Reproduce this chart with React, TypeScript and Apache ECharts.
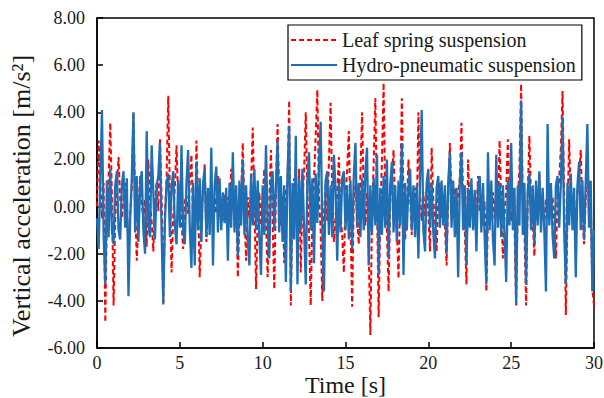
import React, { useEffect, useRef } from "react";
import * as echarts from "echarts";

const FONT = '"Liberation Serif", "Times New Roman", serif';

// sampling step of the read-off signals [s]
const STEP = 0.1;

const seriesNames = ["Leaf spring suspension", "Hydro-pneumatic suspension"];

// Leaf spring suspension, vertical acceleration [m/s2], t = 0 .. 30 s
const leafSpring = [
  0.0, 2.8, 1.0, -0.5, 1.0, -4.9, -0.3, 1.2, 3.55, 0.5,
  -4.2, -0.5, 0.8, 2.1, 0.3, -0.5, 0.4, 1.0, -0.4, -1.5,
  -0.3, 0.8, 4.0, 0.2, -2.3, -0.6, 1.3, 0.1, -0.5, 0.3,
  -1.7, 2.0, 0.2, -0.6, -1.9, 0.3, 1.0, -0.2, 2.85, 0.4,
  -4.2, -0.3, 1.2, 4.7, 0.6, -2.8, -0.4, 0.8, 2.6, 0.3,
  0.5, -0.6, -1.8, 0.2, 0.5, -0.3, 1.0, 2.2, -0.6, -2.0,
  2.8, 0.3, -3.0, -0.6, 0.7, 1.8, -1.5, 0.2, -0.5, 0.6,
  -1.2, 0.4, -0.3, 1.3, -0.4, 0.3, -0.6, 0.5, -0.2, 0.4,
  -0.5, 1.6, 0.2, -0.8, 0.4, -3.0, -0.5, 0.6, 2.7, -0.3,
  -2.3, 0.4, -0.5, 1.0, 3.35, 0.2, -3.5, -0.4, 0.6, -0.8,
  0.4, 1.6, -0.5, -3.0, 0.3, 2.4, -0.6, -3.5, 0.5, 3.5,
  0.3, -0.8, 0.5, -2.4, 0.6, 1.0, 4.5, -4.2, 0.5, 1.2,
  0.4, -1.0, 1.6, -2.8, 0.3, 1.5, 4.0, 0.6, -1.2, -4.2,
  -0.5, 1.2, 3.0, 4.95, 0.4, -1.0, -4.0, -0.3, 1.0, -0.6,
  2.0, 4.4, 0.5, -1.5, -0.4, 0.6, 2.1, -0.3, -1.2, -2.8,
  0.4, 1.6, 3.2, -0.5, -4.25, 0.3, 0.9, -0.4, -1.6, 1.4,
  4.0, 0.3, -0.8, 0.6, -1.8, -5.45, -0.5, 1.8, 4.6, 0.3,
  -4.7, -0.4, 2.0, 5.25, 0.4, -1.0, -3.6, 0.2, 1.2, 2.4,
  -0.4, -1.0, -3.05, 0.6, 4.6, 0.4, -1.4, -0.3, 2.0, 0.4,
  -1.2, 0.2, 0.8, -0.5, 4.0, 0.5, -0.6, 0.6, -0.4, 0.8,
  -0.3, -1.9, 2.5, 0.3, -0.6, -1.9, 0.5, 1.0, -0.5, 0.4,
  -0.8, -2.5, 0.4, 2.7, 0.2, -0.5, 0.8, -0.3, 0.5, 1.2,
  3.55, 0.3, -1.0, -3.3, 2.0, -0.4, 0.6, -0.8, 0.3, -0.5,
  1.3, -0.2, 0.5, -0.8, 0.2, -3.6, -0.5, 0.8, -0.4, 0.6,
  -0.5, 0.8, -0.3, 2.8, 0.2, -2.2, -0.4, 0.7, 2.85, 0.3,
  -0.6, 0.4, -0.8, -4.2, 0.3, 1.6, 5.2, 0.4, -1.0, -4.2,
  0.5, 3.0, 0.3, -0.6, -2.1, 0.4, -0.3, 1.4, -0.4, 0.5,
  -0.7, 0.3, -0.5, 0.6, -0.3, 0.4, -0.6, -2.2, 0.5, 1.2,
  2.5, 4.9, 0.4, -4.6, -0.3, 2.85, 0.3, -0.6, 0.4, -0.8,
  0.6, 1.4, 2.4, -0.3, -1.6, 0.3, 2.0, -0.5, 0.4, -3.5,
  -4.2,
];

// Hydro-pneumatic suspension, vertical acceleration [m/s2], t = 0 .. 30 s
const hydroPneumatic = [
  -0.5, -1.8, 1.2, 4.1, -1.2, -3.3, 1.1, -1.3, 1.6, -1.0,
  -1.6, 0.9, 1.5, -1.0, -1.4, 0.9, 1.5, -0.9, 1.2, -3.8,
  -0.6, 1.2, 4.0, -1.1, 1.3, -1.5, 0.8, 1.5, -1.0, -2.0,
  3.2, -0.8, -1.3, 2.6, 0.6, -1.4, 0.9, 1.3, 2.7, -1.1,
  -4.1, -0.6, 1.0, 1.4, -1.3, 0.8, 1.5, -0.8, -1.6, 1.1,
  -0.9, 2.6, -1.0, -1.6, 1.0, 2.4, -0.9, -2.6, 1.0, -2.5,
  1.9, -1.0, 1.2, -1.5, 1.0, 1.6, -1.3, 0.8, -1.2, 2.5,
  -2.5, 0.9, 1.7, -1.1, 1.2, -1.0, 0.6, -0.7, 0.8, -2.3,
  1.0, -0.9, 2.3, -1.1, 0.9, -2.1, 1.1, -0.8, 2.0, -1.2,
  0.9, -1.4, -2.5, 1.4, -0.8, 1.6, -1.0, 1.1, -1.3, -2.9,
  0.9, -1.2, 2.6, -0.7, -2.2, 1.0, 1.5, -1.0, 0.9, 2.8,
  -1.1, 1.3, -1.5, 0.9, -3.2, 1.4, 3.4, -3.6, 1.0, -1.4,
  3.0, -3.3, 1.2, -1.0, 1.6, -0.9, -3.3, 1.1, 2.3, -1.0,
  1.2, -2.4, 1.4, -0.7, 1.8, 3.6, -0.9, -3.6, 1.1, 1.5,
  -1.2, 0.9, -1.3, 2.2, 0.7, -2.3, 1.0, -1.1, 1.2, 1.5,
  -1.0, 0.9, -1.4, 1.1, -1.8, 1.3, 2.7, -0.9, 1.0, -1.3,
  1.2, -1.0, 1.5, 2.5, -2.5, 0.9, -1.1, 1.2, -0.8, 2.2,
  -2.9, 0.8, -1.2, 1.3, -0.9, 2.0, -2.2, 0.9, 1.9, -1.1,
  0.9, -1.5, 1.1, -0.8, 2.7, -2.9, 1.0, -1.0, 0.8, 1.6,
  -1.0, 0.9, -1.3, 0.9, -2.2, 1.2, 4.1, -1.0, -1.9, 1.0,
  1.6, -0.9, 1.0, -1.1, -2.2, 0.8, 1.3, -0.9, 1.1, -0.8,
  0.9, -2.0, 1.0, 2.3, -0.9, 1.1, -1.3, 0.8, -3.0, 1.0,
  2.3, -1.0, 0.9, -2.5, 0.8, -0.9, 1.2, -1.0, 0.7, -1.9,
  0.9, 1.3, -1.1, 1.0, -1.3, -3.3, 2.3, -1.0, 1.1, -1.4,
  -2.5, 2.2, -0.9, 1.0, -1.3, 0.9, -1.1, -3.2, 1.1, -0.8,
  2.7, -1.0, 0.8, -4.1, 0.9, -0.8, 4.5, -1.2, 1.0, -3.3,
  0.7, 1.4, -1.0, 0.9, -1.6, 1.1, -0.8, 1.5, -1.1, 0.8,
  -1.0, -3.6, 3.5, -0.8, 1.0, -1.2, -2.2, 0.9, 1.3, -0.9,
  1.0, 3.8, -1.0, -3.3, 1.0, -0.8, 1.4, -1.0, 0.8, -3.0,
  0.9, 1.9, -1.0, 1.1, -1.4, 1.0, 3.5, -0.9, 1.1, -3.6,
  -1.0,
];

const xRange = [0, 30];
const xInterval = 5;
const yRange = [-6, 8];
const yInterval = 2;

const toPairs = (vals: number[]) =>
  vals.map((v, i) => [Math.round(i * STEP * 1000) / 1000, v]);

export default function App() {
  const ref = useRef<HTMLDivElement>(null);

  useEffect(() => {
    if (!ref.current) return;
    const chart = echarts.init(ref.current, undefined, { renderer: "svg" });
    const axisColor = "#000";
    const textColor = "#1a1a1a";
    chart.setOption({
      animation: false,
      backgroundColor: "#fff",
      textStyle: { fontFamily: FONT },
      grid: {
        left: 97,
        right: 10,
        top: 18,
        bottom: 50,
        outerBoundsMode: "none",
        containLabel: false,
        show: true,
        borderColor: axisColor,
        borderWidth: 1.5,
        backgroundColor: "transparent",
      },
      legend: {
        orient: "vertical",
        left: 288,
        top: 25,
        padding: [5, 6, 5, 2],
        itemGap: 5,
        itemWidth: 46,
        itemHeight: 14,
        backgroundColor: "#fff",
        borderColor: "#000",
        borderWidth: 1.2,
        borderRadius: 0,
        data: seriesNames,
        itemStyle: { opacity: 0 },
        textStyle: { fontSize: 20, color: textColor, fontFamily: FONT },
      },
      xAxis: {
        type: "value",
        min: xRange[0],
        max: xRange[1],
        interval: xInterval,
        name: "Time [s]",
        nameLocation: "middle",
        nameGap: 26,
        nameMoveOverlap: false,
        nameTextStyle: { fontSize: 24, lineHeight: 22, color: textColor, fontFamily: FONT },
        axisLine: { show: true, onZero: false, lineStyle: { color: axisColor, width: 1.5 } },
        axisTick: { show: true, inside: true, length: 6, lineStyle: { color: axisColor, width: 1.5 } },
        axisLabel: { fontSize: 18, lineHeight: 16, color: textColor, margin: 7, fontFamily: FONT },
        splitLine: { show: false },
      },
      yAxis: {
        type: "value",
        min: yRange[0],
        max: yRange[1],
        interval: yInterval,
        name: "Vertical acceleration [m/s²]",
        nameLocation: "middle",
        nameGap: 63,
        nameMoveOverlap: false,
        nameTextStyle: {
          fontSize: 26,
          color: textColor,
          fontFamily: FONT,
          padding: [0, 26, 0, 0],
        },
        axisLine: { show: true, onZero: false, lineStyle: { color: axisColor, width: 1.5 } },
        axisTick: { show: true, inside: true, length: 6, lineStyle: { color: axisColor, width: 1.5 } },
        axisLabel: {
          fontSize: 18,
          color: textColor,
          margin: 12,
          fontFamily: FONT,
          formatter: (v: number) => v.toFixed(2),
        },
        splitLine: { show: false },
      },
      series: [
        {
          name: seriesNames[0],
          type: "line",
          data: toPairs(leafSpring),
          symbol: "none",
          z: 2,
          itemStyle: { color: "#ff0000" },
          lineStyle: { color: "#ff0000", width: 2, type: [5, 3] },
        },
        {
          name: seriesNames[1],
          type: "line",
          data: toPairs(hydroPneumatic),
          symbol: "none",
          z: 3,
          itemStyle: { color: "#1f6fb5" },
          lineStyle: { color: "#1f6fb5", width: 2.3 },
        },
      ],
    });
    return () => chart.dispose();
  }, []);

  return (
    <div
      ref={ref}
      style={{ position: "fixed", left: 0, top: 0, width: 604, height: 398, background: "#fff" }}
    />
  );
}
